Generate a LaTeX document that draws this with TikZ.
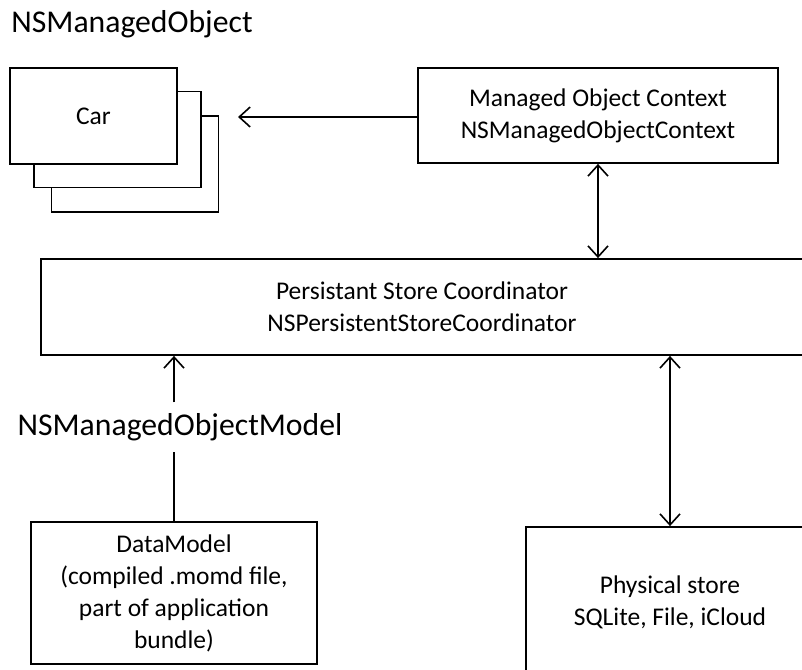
\documentclass[tikz,border=0pt]{standalone}
\usepackage{fontspec}
\setmainfont{Carlito}
\usetikzlibrary{arrows.meta}

\begin{document}
\begin{tikzpicture}[x=1pt, y=-1pt,
    box/.style={draw, line width=1.8pt, fill=white, inner sep=0pt, align=center,
        font=\fontsize{25.5}{32}\selectfont},
    carbox/.style={box, minimum width=167pt, minimum height=96pt},
    label/.style={inner sep=0pt, font=\fontsize{31.7}{38}\selectfont},
    arr/.style={line width=1.8pt, -{Straight Barb[length=11pt,width=20pt,line width=1.6pt]}},
    arrboth/.style={line width=1.8pt, {Straight Barb[length=11pt,width=20pt,line width=1.6pt]}-{Straight Barb[length=11pt,width=20pt,line width=1.6pt]}}]
    \useasboundingbox (0,0) rectangle (802,669);
    \clip (0,0) rectangle (802,669);

    \node[label] (nsmo) at (132,24) {NSManagedObject};

    % stack of cars
    \node[carbox] (car3) at (135,164) {};
    \node[carbox] (car2) at (117.5,139.5) {};
    \node[carbox] (car1) at (93.5,116) {Car};
    \coordinate (cartip) at (238,117);

    \node[box, minimum width=360pt, minimum height=95pt] (moc) at (598,115.5)
        {Managed Object Context\\NSManagedObjectContext};
    \node[box, minimum width=762pt, minimum height=96pt] (psc) at (422,307)
        {Persistant Store Coordinator\\NSPersistentStoreCoordinator};
    \node[box, minimum width=286pt, minimum height=142pt] (dm) at (174,593)
        {DataModel\\(compiled .momd file,\\part of application\\bundle)};
    \node[box, minimum width=288pt, minimum height=150pt] (phys) at (670,602)
        {Physical store\\SQLite, File, iCloud};
    \node[label, minimum height=49pt] (nsmom) at (180,427) {NSManagedObjectModel};

    \draw[arr] (moc.west |- cartip) -- (cartip);
    \draw[arrboth] (moc.south) -- (moc.south |- psc.north);
    \draw[arrboth] (phys.north) -- (phys.north |- psc.south);
    \draw[line width=1.8pt] (dm.north) -- (dm.north |- nsmom.south);
    \draw[arr] (dm.north |- nsmom.north) -- (dm.north |- psc.south);
\end{tikzpicture}
\end{document}
